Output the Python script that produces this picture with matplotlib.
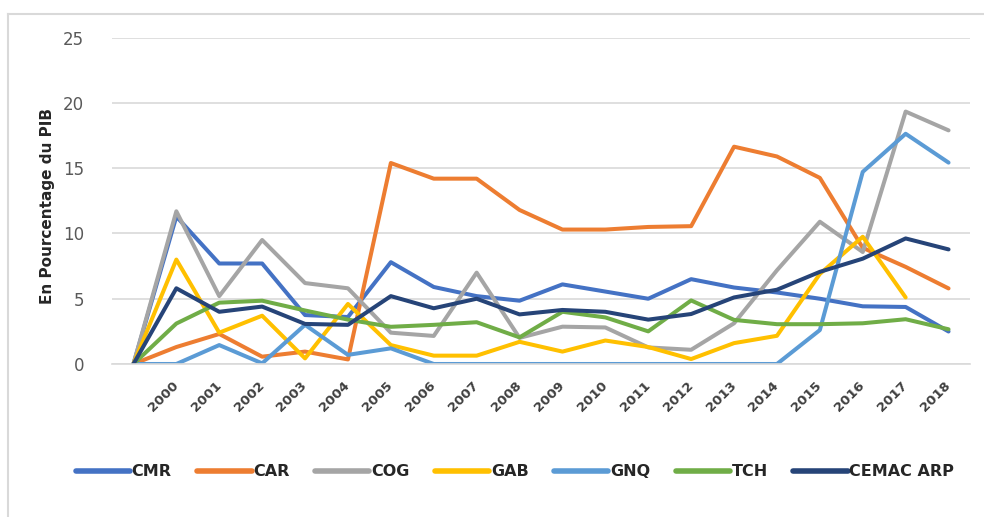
import numpy as np
import matplotlib
matplotlib.use("Agg")
import matplotlib.pyplot as plt
from matplotlib.lines import Line2D

categories = ["", "2000", "2001", "2002", "2003", "2004", "2005", "2006", "2007", "2008",
              "2009", "2010", "2011", "2012", "2013", "2014", "2015", "2016", "2017", "2018"]

CMR = [0, 11.3, 7.7, 7.7, 3.75, 3.6, 7.8, 5.9, 5.2, 4.85, 6.1, 5.55, 5.0, 6.5, 5.86, 5.48, 5.0, 4.42, 4.37, 2.49]
CAR = [0, 1.3, 2.3, 0.56, 0.95, 0.35, 15.4, 14.2, 14.2, 11.8, 10.3, 10.3, 10.5, 10.56, 16.65, 15.9, 14.26, 8.9, 7.44, 5.79]
COG = [0, 11.7, 5.2, 9.5, 6.2, 5.8, 2.4, 2.15, 7.0, 2.0, 2.86, 2.8, 1.27, 1.09, 3.12, 7.18, 10.9, 8.58, 19.34, 17.9]
GAB = [0, 8.0, 2.4, 3.7, 0.43, 4.6, 1.45, 0.64, 0.64, 1.7, 0.95, 1.8, 1.3, 0.38, 1.6, 2.16, 6.9, 9.75, 5.1, np.nan]
GNQ = [0, 0, 1.45, 0.05, 3.0, 0.7, 1.2, 0, 0, 0, 0, 0, 0, 0, 0, 0, 2.6, 14.72, 17.64, 15.43]
TCH = [0, 3.1, 4.7, 4.85, 4.1, 3.4, 2.85, 3.0, 3.2, 2.04, 4.0, 3.57, 2.5, 4.87, 3.38, 3.05, 3.05, 3.12, 3.43, 2.66]
CEMAC = [0, 5.8, 4.0, 4.4, 3.07, 3.0, 5.2, 4.27, 5.0, 3.8, 4.14, 4.0, 3.4, 3.83, 5.1, 5.69, 7.06, 8.07, 9.62, 8.78]

series = [("CMR", CMR, "#4472C4"), ("CAR", CAR, "#ED7D31"), ("COG", COG, "#A5A5A5"),
          ("GAB", GAB, "#FFC000"), ("GNQ", GNQ, "#5B9BD5"), ("TCH", TCH, "#70AD47"),
          ("CEMAC ARP", CEMAC, "#264478")]

yticks = [0, 5, 10, 15, 20, 25]

W, H = 984, 517
fig = plt.figure(figsize=(W / 100, H / 100), dpi=100)
ax = fig.add_axes([112 / W, 1 - 364 / H, (970 - 112) / W, (364 - 37.7) / H])

x = np.arange(len(categories))
for name, vals, col in series:
    ax.plot(x, vals, color=col, lw=2.9, label=name, solid_joinstyle="round",
            solid_capstyle="round")

ax.set_xlim(-0.5, len(categories) - 0.5)
ax.set_ylim(0, 25)
ax.set_yticks(yticks)
ax.set_yticklabels([str(v) for v in yticks], fontsize=12, color="#595959")
ax.yaxis.grid(True, color="#D9D9D9", lw=1.2)
ax.set_axisbelow(True)
for s in ["top", "right", "left"]:
    ax.spines[s].set_visible(False)
ax.spines["bottom"].set_color("#D9D9D9")
ax.spines["bottom"].set_linewidth(1.2)
ax.tick_params(axis="y", length=0, pad=20)
ax.tick_params(axis="x", length=0, pad=14)
ax.set_xticks(x)
ax.set_xticklabels(categories, rotation=45, ha="right", va="center",
                   rotation_mode="anchor", fontsize=9.5, fontweight="bold", color="#404040")

fig.text(48 / W, 1 - 206 / H, "En Pourcentage du PIB", rotation=90, ha="center", va="center",
         fontsize=11, fontweight="bold", color="#262626")

leg = fig.legend(loc="center", bbox_to_anchor=(515 / W, 1 - 472 / H), ncol=7, frameon=False,
                 handlelength=3.4, handletextpad=0.1, columnspacing=1.6,
                 prop={"size": 11.5, "weight": "bold"})
for t in leg.get_texts():
    t.set_color("#262626")
for h in leg.get_lines():
    h.set_linewidth(4)
    h.set_solid_capstyle("round")

fig.add_artist(Line2D([8 / W, 8 / W], [0, 1 - 14 / H], transform=fig.transFigure, color="#D9D9D9", lw=1.5))
fig.add_artist(Line2D([8 / W, 1], [1 - 14 / H, 1 - 14 / H], transform=fig.transFigure, color="#D9D9D9", lw=1.5))

fig.savefig("out.png", dpi=100, facecolor="white")
